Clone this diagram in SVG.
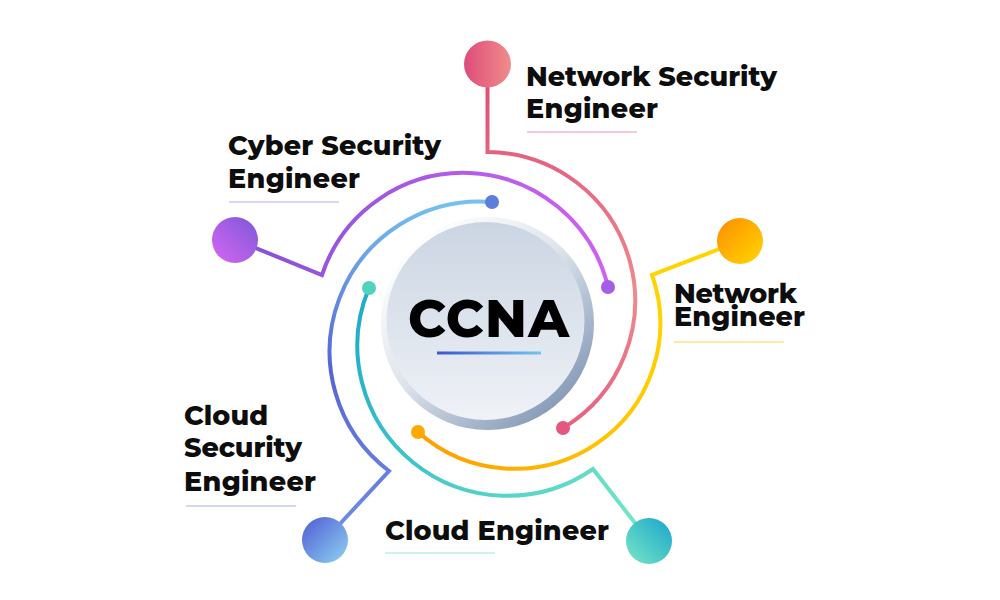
<svg xmlns="http://www.w3.org/2000/svg" width="1000" height="600" viewBox="0 0 1000 600">
  <style>
    .lbl { font-family: Montserrat, Inter, "Liberation Sans", sans-serif; font-weight: 800; font-size: 27px; fill: #0d0d0d; }
    .arc { fill: none; stroke-width: 4; stroke-linecap: round; }
    .ul { stroke-width: 1.3; }
  </style>
  <defs>
    <linearGradient id="gNSc" x1="0" y1="0" x2="1" y2="0"><stop offset="0" stop-color="#de4c79"/><stop offset="1" stop-color="#ef8d8b"/></linearGradient>
    <linearGradient id="gNSa" gradientUnits="userSpaceOnUse" x1="0" y1="90" x2="0" y2="430"><stop offset="0" stop-color="#e04f7a"/><stop offset="0.6" stop-color="#f08a8c"/><stop offset="1" stop-color="#e65f80"/></linearGradient>
    <linearGradient id="gCSc" x1="1" y1="0" x2="0" y2="1"><stop offset="0" stop-color="#7b58d8"/><stop offset="1" stop-color="#d866f2"/></linearGradient>
    <linearGradient id="gCSa" gradientUnits="userSpaceOnUse" x1="240" y1="0" x2="610" y2="0"><stop offset="0" stop-color="#8650d6"/><stop offset="0.6" stop-color="#b25ce8"/><stop offset="1" stop-color="#cf61f2"/></linearGradient>
    <linearGradient id="gNEc" x1="0" y1="0" x2="1" y2="1"><stop offset="0" stop-color="#ff8c00"/><stop offset="1" stop-color="#ffd800"/></linearGradient>
    <linearGradient id="gNEa" gradientUnits="userSpaceOnUse" x1="660" y1="300" x2="418" y2="440"><stop offset="0" stop-color="#ffd400"/><stop offset="0.5" stop-color="#ffc000"/><stop offset="1" stop-color="#ff9e00"/></linearGradient>
    <linearGradient id="gCEc" x1="0" y1="1" x2="1" y2="0"><stop offset="0" stop-color="#78e8c4"/><stop offset="1" stop-color="#1aa4cc"/></linearGradient>
    <linearGradient id="gCEa" gradientUnits="userSpaceOnUse" x1="640" y1="520" x2="360" y2="300"><stop offset="0" stop-color="#74e6c8"/><stop offset="0.5" stop-color="#48ccc8"/><stop offset="1" stop-color="#1daccb"/></linearGradient>
    <linearGradient id="gCLc" x1="0" y1="0" x2="1" y2="1"><stop offset="0" stop-color="#4f5ad4"/><stop offset="1" stop-color="#8fd4f2"/></linearGradient>
    <linearGradient id="gCLa" gradientUnits="userSpaceOnUse" x1="0" y1="540" x2="0" y2="200"><stop offset="0" stop-color="#7090e4"/><stop offset="0.5" stop-color="#5663d5"/><stop offset="1" stop-color="#76c2ee"/></linearGradient>
    <linearGradient id="gRing" x1="0.15" y1="0.1" x2="0.85" y2="0.9"><stop offset="0" stop-color="#ffffff"/><stop offset="0.45" stop-color="#dfe5ed"/><stop offset="1" stop-color="#8499b6"/></linearGradient>
    <linearGradient id="gFill" x1="0" y1="0" x2="0" y2="1"><stop offset="0" stop-color="#cbd5e2"/><stop offset="1" stop-color="#eff2f7"/></linearGradient>
    <linearGradient id="gBar" x1="0" y1="0" x2="1" y2="0"><stop offset="0" stop-color="#3d56cf"/><stop offset="1" stop-color="#72c4ec"/></linearGradient>
  </defs>
  <rect width="1000" height="600" fill="#ffffff"/>

  <g id="connectors">
    <path class="arc" stroke="url(#gNSa)" d="M487.5 86 L487.5 152 A148.6 148.6 0 0 1 563 428" stroke-linejoin="miter"/>
    <circle cx="563" cy="428" r="7" fill="#e4577f"/>
    <path class="arc" stroke="url(#gCSa)" d="M236 240 L322 275 A148.8 148.8 0 0 1 608 287"/>
    <circle cx="608" cy="287" r="7" fill="#a65de8"/>
    <path class="arc" stroke="url(#gNEa)" d="M740 241 L652 275 A145.5 145.5 0 0 1 418 432"/>
    <circle cx="418" cy="432" r="7" fill="#ffa800"/>
    <path class="arc" stroke="url(#gCEa)" d="M649 541 L593 469 A150 150 0 0 1 369 288"/>
    <circle cx="369" cy="288" r="7" fill="#4fd2be"/>
    <path class="arc" stroke="url(#gCLa)" d="M325 540 L389 471 A150 150 0 0 1 492 202"/>
    <circle cx="492" cy="202" r="7" fill="#5b7fda"/>
  </g>

  <g id="ccna">
    <circle cx="487.5" cy="323.5" r="106.5" fill="url(#gRing)"/>
    <circle cx="485.5" cy="321" r="99" fill="url(#gFill)"/>
    <text x="408" y="337" font-family="Montserrat, Inter, 'Liberation Sans', sans-serif" font-weight="800" font-size="52" fill="#000" textLength="161">CCNA</text>
    <rect x="437" y="351.5" width="104" height="3" fill="url(#gBar)"/>
  </g>

  <g id="network-security-engineer">
    <circle cx="487.5" cy="64" r="23.5" fill="url(#gNSc)"/>
    <text class="lbl"><tspan x="526" y="86" textLength="251">Network Security</tspan><tspan x="526" y="118" textLength="132">Engineer</tspan></text>
    <line class="ul" x1="527" y1="132" x2="637" y2="132" stroke="#f4b8c8"/>
  </g>

  <g id="cyber-security-engineer">
    <circle cx="235" cy="240" r="23" fill="url(#gCSc)"/>
    <text class="lbl"><tspan x="228" y="155" textLength="213">Cyber Security</tspan><tspan x="228" y="188" textLength="132">Engineer</tspan></text>
    <line class="ul" x1="229" y1="202" x2="339" y2="202" stroke="#d5c5f6"/>
  </g>

  <g id="network-engineer">
    <circle cx="740" cy="241" r="23" fill="url(#gNEc)"/>
    <text class="lbl" font-size="26"><tspan x="674" y="303" textLength="123">Network</tspan><tspan x="674" y="326" textLength="131">Engineer</tspan></text>
    <line class="ul" x1="674" y1="342" x2="784" y2="342" stroke="#ffe08c"/>
  </g>

  <g id="cloud-security-engineer">
    <circle cx="325" cy="540" r="23" fill="url(#gCLc)"/>
    <text class="lbl"><tspan x="184" y="425" textLength="84">Cloud</tspan><tspan x="184" y="457" textLength="118">Security</tspan><tspan x="184" y="491" textLength="132">Engineer</tspan></text>
    <line class="ul" x1="186" y1="506" x2="296" y2="506" stroke="#c3caf2"/>
  </g>

  <g id="cloud-engineer">
    <circle cx="649" cy="541" r="23" fill="url(#gCEc)"/>
    <text class="lbl" x="385" y="540" font-size="28" textLength="224">Cloud Engineer</text>
    <line class="ul" x1="385" y1="553" x2="495" y2="553" stroke="#bdeee8"/>
  </g>
</svg>
